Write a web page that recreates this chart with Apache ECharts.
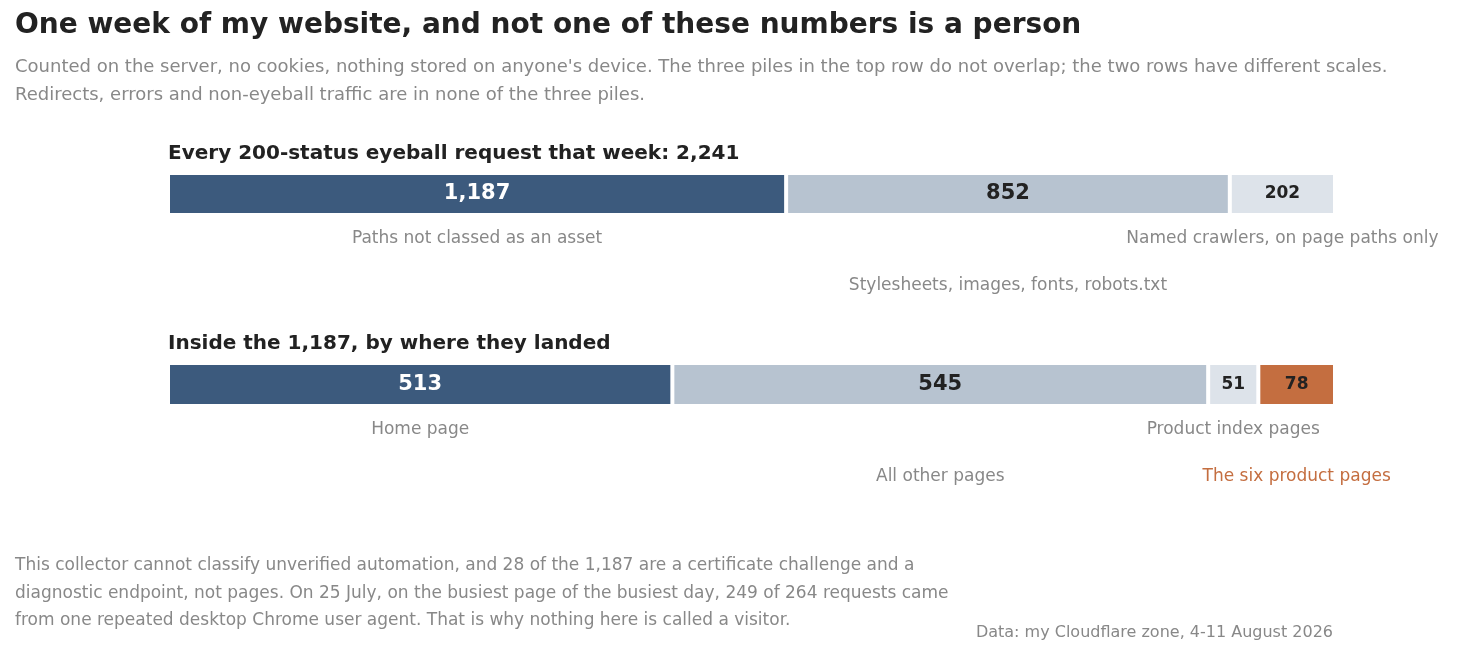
<!DOCTYPE html>
<html><head><meta charset="utf-8">
<script src="https://cdn.jsdelivr.net/npm/echarts@6/dist/echarts.min.js"></script>
<style>html,body{margin:0;padding:0;background:#fff}#c{width:1460px;height:658px}</style>
</head><body><div id="c"></div>
<script>
const topNames = ['Paths not classed as an asset','Stylesheets, images, fonts, robots.txt','Named crawlers, on page paths only'];
const topValues = [1187, 852, 202];
const botNames = ['Home page','All other pages','Product index pages','The six product pages'];
const botValues = [513, 545, 51, 78];
const topColors = ['#3c5a7d','#b7c3d0','#dde3ea'];
const botColors = ['#3c5a7d','#b7c3d0','#dde3ea','#c46e40'];
const topRows = [0,1,0];
const botRows = [0,1,0,1];
const topSmall = [false,false,true];
const botSmall = [false,false,true,true];
const font = '"DejaVu Sans", sans-serif';
const fmt = v => v.toLocaleString('en-US');

function build(names, values, colors, rows, small, idx){
  const s = [];
  values.forEach((v,i)=>{
    s.push({type:'bar', xAxisIndex:idx, yAxisIndex:idx, stack:'v'+idx, data:[v], barWidth:'100%',
      itemStyle:{color:colors[i], borderColor:'#fff', borderWidth:2},
      label:{show:true, position:'inside', formatter:()=>fmt(v), fontFamily:font, fontWeight:'bold',
        fontSize: small[i]?17:21, color: i===0?'#fff':'#222'}, silent:true});
  });
  values.forEach((v,i)=>{
    s.push({type:'bar', xAxisIndex:idx, yAxisIndex:idx, stack:'n'+idx, data:[v], barWidth:'100%', barGap:'-100%',
      itemStyle:{color:'rgba(0,0,0,0)'},
      label:{show:true, position:'bottom', distance: rows[i]?62:15, formatter:()=>names[i], fontFamily:font,
        fontSize:17, color: colors[i]==='#c46e40'?'#c46e40':'#888'}, silent:true});
  });
  return s;
}
const sum = a => a.reduce((x,y)=>x+y,0);
const chart = echarts.init(document.getElementById('c'));
chart.setOption({
  animation:false,
  grid:[{left:168,right:125,top:173,height:42},{left:168,right:125,top:363,height:43}],
  xAxis:[{gridIndex:0,type:'value',min:0,max:sum(topValues),show:false},{gridIndex:1,type:'value',min:0,max:sum(botValues),show:false}],
  yAxis:[{gridIndex:0,type:'category',data:['a'],show:false},{gridIndex:1,type:'category',data:['b'],show:false}],
  series: build(topNames,topValues,topColors,topRows,topSmall,0).concat(build(botNames,botValues,botColors,botRows,botSmall,1)),
  graphic:[
    {type:'text',left:15,top:12,style:{text:'One week of my website, and not one of these numbers is a person',font:'bold 28px '+font,fill:'#222'}},
    {type:'text',left:15,top:53,style:{text:"Counted on the server, no cookies, nothing stored on anyone's device. The three piles in the top row do not overlap; the two rows have different scales.\nRedirects, errors and non-eyeball traffic are in none of the three piles.",font:'18px '+font,fill:'#888',lineHeight:28}},
    {type:'text',left:168,top:144,style:{text:'Every 200-status eyeball request that week: 2,241',font:'bold 20px '+font,fill:'#222'}},
    {type:'text',left:168,top:334,style:{text:'Inside the 1,187, by where they landed',font:'bold 20px '+font,fill:'#222'}},
    {type:'text',left:15,top:552,style:{text:'This collector cannot classify unverified automation, and 28 of the 1,187 are a certificate challenge and a\ndiagnostic endpoint, not pages. On 25 July, on the busiest page of the busiest day, 249 of 264 requests came\nfrom one repeated desktop Chrome user agent. That is why nothing here is called a visitor.',font:'17px '+font,fill:'#888',lineHeight:27.5}},
    {type:'text',right:127,top:625,style:{text:'Data: my Cloudflare zone, 4-11 August 2026',font:'16px '+font,fill:'#888'}}
  ]
});
</script></body></html>
